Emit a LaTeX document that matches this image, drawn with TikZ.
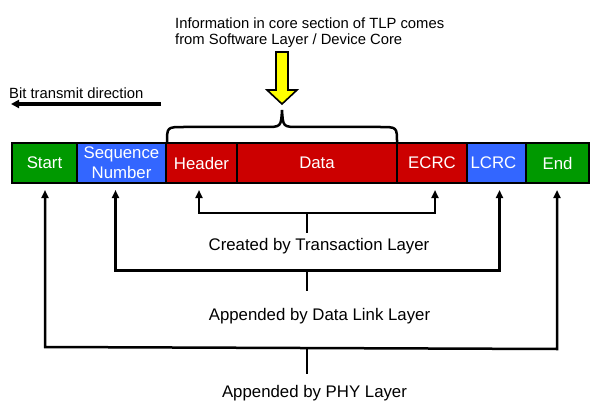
\documentclass[tikz,border=0pt]{standalone}
\usepackage{fontspec}
\setmainfont{Liberation Sans}
\usetikzlibrary{arrows.meta}
\definecolor{pgreen}{HTML}{009900}
\definecolor{pblue}{HTML}{3366FF}
\definecolor{pred}{HTML}{CC0000}
\definecolor{pyellow}{HTML}{FFFF00}
\tikzset{
  field/.style={draw=black, line width=2pt, minimum height=40pt, inner sep=0pt,
    text=white, font=\fontsize{16.8}{20}\selectfont, align=center},
  biglabel/.style={inner sep=0pt, anchor=base, font=\fontsize{16.8}{20}\selectfont},
  smalllabel/.style={inner sep=0pt, anchor=base west, font=\fontsize{14.8}{16.5}\selectfont},
  bracket/.style={line width=2.5pt, line join=miter},
  uparrow/.style={bracket, arrows={Triangle[width=7pt,length=8pt]-Triangle[width=7pt,length=8pt]}},
  stub/.style={line width=2.5pt},
}
\begin{document}
\begin{tikzpicture}[x=1pt,y=-1pt]
\useasboundingbox (0,0) rectangle (596,406);

% fields
\node[field, fill=pgreen, minimum width=65pt] (start) at (44.5,163) {Start};
\node[field, fill=pblue, minimum width=89pt] (seq) at (121.5,163) {Sequence\\Number};
\node[field, fill=pred, minimum width=71pt] (header) at (201.5,163) {Header};
\node[field, fill=pred, minimum width=160pt] (data) at (317,163) {Data};
\node[field, fill=pred, minimum width=70pt] (ecrc) at (432,163) {ECRC};
\node[field, fill=pblue, minimum width=59pt] (lcrc) at (496.5,163) {\hspace*{-6pt}LCRC};
\node[field, fill=pgreen, minimum width=63pt] (endb) at (557.5,163) {End};

% top texts
\node[smalllabel] (info1) at (175,28.7) {Information in core section of TLP comes};
\node[smalllabel] (info2) at (175,44.5) {from Software Layer / Device Core};
\node[smalllabel] (bit) at (9,98.3) {Bit transmit direction};

% bit direction arrow
\coordinate (bitR) at (161,104);
\coordinate (bitL) at (11,104);
\draw[line width=3.5pt, -{Triangle[width=8pt,length=8pt]}] (bitR) -- (bitL);

% yellow arrow
\draw[fill=pyellow, line width=1.6pt, line join=miter]
  (276,52) -- (288,52) -- (288,90) -- (297,90) -- (282,104) -- (267,90) -- (276,90) -- cycle;

% brace
\draw[line width=2.5pt]
  (167,143) .. controls (167,127) .. (184,127) -- (265,127)
  .. controls (281,127) .. (282,110)
  .. controls (283,127) .. (299,127) -- (380,127)
  .. controls (397,127) .. (397,143);

% transaction layer bracket
\coordinate (trL) at (199,213);
\coordinate (trR) at (435,213);
\coordinate (trM) at (307,213);
\coordinate (trMb) at (307,233);
\draw[uparrow] ([yshift=-6pt]header.south -| trL) -- (trL) -- (trR) -- ([yshift=-6pt]ecrc.south -| trR);
\draw[stub] (trM) -- (trMb);
\node[biglabel] (created) at (319,250) {Created by Transaction Layer};

% data link layer bracket
\coordinate (dlL) at (115.5,270.7);
\coordinate (dlR) at (499.5,270.7);
\coordinate (dlM) at (307,270.7);
\coordinate (dlMb) at (307,291);
\draw[uparrow] ([yshift=-6pt]seq.south -| dlL) -- (dlL) -- (dlR) -- ([yshift=-6pt]lcrc.south -| dlR);
\draw[stub] (dlM) -- (dlMb);
\node[biglabel] (dll) at (319.5,320.7) {Appended by Data Link Layer};

% phy layer bracket
\coordinate (phL) at (45,347);
\coordinate (phR) at (557,349);
\coordinate (phM) at (307,348);
\coordinate (phMb) at (307,374);
\draw[uparrow] ([yshift=-6pt]start.south -| phL) -- (phL) -- (phR) -- ([yshift=-6pt]endb.south -| phR);
\draw[stub] (phM) -- (phMb);
\node[biglabel] (phy) at (314.5,397.4) {Appended by PHY Layer};
\end{tikzpicture}
\end{document}
